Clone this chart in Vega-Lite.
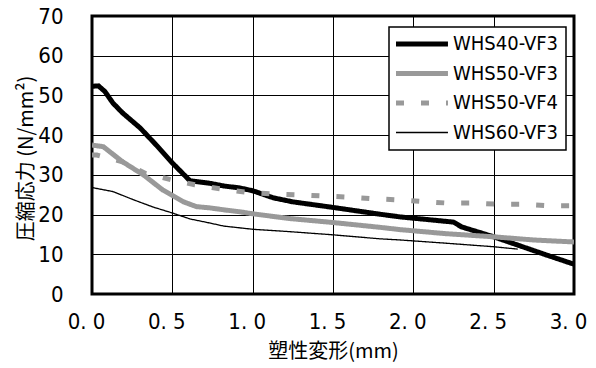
{
  "$schema": "https://vega.github.io/schema/vega-lite/v6.json",
  "width": 482,
  "height": 278,
  "autosize": {"type": "none"},
  "padding": {"left": 92, "top": 16, "right": 22, "bottom": 74},
  "background": "white",
  "config": {
    "view": {"stroke": "black", "strokeWidth": 3},
    "axis": {
      "domain": false,
      "ticks": false,
      "labelFlush": false,
      "labelOverlap": false,
      "gridColor": "black",
      "gridWidth": 1,
      "gridOpacity": 1,
      "labelColor": "black",
      "titleColor": "black",
      "labelFont": "DejaVu Sans Condensed, sans-serif",
      "labelFontSize": 22,
      "titleFont": "Noto Sans CJK JP, sans-serif",
      "titleFontWeight": "normal",
      "titleFontSize": 20
    }
  },
  "data": {
    "values": [
      {"series": "WHS40-VF3", "x": 0, "y": 52.3},
      {"series": "WHS40-VF3", "x": 0.04, "y": 52.4},
      {"series": "WHS40-VF3", "x": 0.08, "y": 51},
      {"series": "WHS40-VF3", "x": 0.13, "y": 48.1},
      {"series": "WHS40-VF3", "x": 0.19, "y": 45.6},
      {"series": "WHS40-VF3", "x": 0.3, "y": 41.8},
      {"series": "WHS40-VF3", "x": 0.4, "y": 37.5},
      {"series": "WHS40-VF3", "x": 0.5, "y": 33},
      {"series": "WHS40-VF3", "x": 0.61, "y": 28.5},
      {"series": "WHS40-VF3", "x": 0.73, "y": 27.9},
      {"series": "WHS40-VF3", "x": 0.82, "y": 27.2},
      {"series": "WHS40-VF3", "x": 0.92, "y": 26.7},
      {"series": "WHS40-VF3", "x": 1.0, "y": 26},
      {"series": "WHS40-VF3", "x": 1.13, "y": 24.2},
      {"series": "WHS40-VF3", "x": 1.25, "y": 23.2},
      {"series": "WHS40-VF3", "x": 1.5, "y": 21.8},
      {"series": "WHS40-VF3", "x": 1.79, "y": 20.1},
      {"series": "WHS40-VF3", "x": 1.92, "y": 19.4},
      {"series": "WHS40-VF3", "x": 2.1, "y": 18.7},
      {"series": "WHS40-VF3", "x": 2.25, "y": 18.1},
      {"series": "WHS40-VF3", "x": 2.3, "y": 16.9},
      {"series": "WHS40-VF3", "x": 2.5, "y": 14.4},
      {"series": "WHS40-VF3", "x": 2.68, "y": 11.9},
      {"series": "WHS40-VF3", "x": 2.83, "y": 9.8},
      {"series": "WHS40-VF3", "x": 3.0, "y": 7.5},
      {"series": "WHS50-VF3", "x": 0, "y": 37.5},
      {"series": "WHS50-VF3", "x": 0.07, "y": 37.1},
      {"series": "WHS50-VF3", "x": 0.19, "y": 33.3},
      {"series": "WHS50-VF3", "x": 0.32, "y": 30},
      {"series": "WHS50-VF3", "x": 0.44, "y": 26.2},
      {"series": "WHS50-VF3", "x": 0.57, "y": 23.2},
      {"series": "WHS50-VF3", "x": 0.65, "y": 22},
      {"series": "WHS50-VF3", "x": 0.73, "y": 21.7},
      {"series": "WHS50-VF3", "x": 0.82, "y": 21.2},
      {"series": "WHS50-VF3", "x": 0.92, "y": 20.7},
      {"series": "WHS50-VF3", "x": 1.0, "y": 20.2},
      {"series": "WHS50-VF3", "x": 1.23, "y": 19.0},
      {"series": "WHS50-VF3", "x": 1.5, "y": 18.0},
      {"series": "WHS50-VF3", "x": 1.79, "y": 16.8},
      {"series": "WHS50-VF3", "x": 1.92, "y": 16.2},
      {"series": "WHS50-VF3", "x": 2.2, "y": 15.2},
      {"series": "WHS50-VF3", "x": 2.5, "y": 14.4},
      {"series": "WHS50-VF3", "x": 2.75, "y": 13.6},
      {"series": "WHS50-VF3", "x": 3.0, "y": 13.1},
      {"series": "WHS50-VF4", "x": 0, "y": 35},
      {"series": "WHS50-VF4", "x": 0.03, "y": 35},
      {"series": "WHS50-VF4", "x": 0.19, "y": 33.3},
      {"series": "WHS50-VF4", "x": 0.33, "y": 30.4},
      {"series": "WHS50-VF4", "x": 0.5, "y": 28.7},
      {"series": "WHS50-VF4", "x": 0.64, "y": 27.5},
      {"series": "WHS50-VF4", "x": 0.81, "y": 26.4},
      {"series": "WHS50-VF4", "x": 0.95, "y": 25.7},
      {"series": "WHS50-VF4", "x": 1.12, "y": 25.2},
      {"series": "WHS50-VF4", "x": 1.27, "y": 25},
      {"series": "WHS50-VF4", "x": 1.43, "y": 24.7},
      {"series": "WHS50-VF4", "x": 1.59, "y": 24.4},
      {"series": "WHS50-VF4", "x": 1.74, "y": 24},
      {"series": "WHS50-VF4", "x": 1.9, "y": 23.7},
      {"series": "WHS50-VF4", "x": 2.05, "y": 23.3},
      {"series": "WHS50-VF4", "x": 2.21, "y": 22.9},
      {"series": "WHS50-VF4", "x": 2.37, "y": 22.9},
      {"series": "WHS50-VF4", "x": 2.53, "y": 22.6},
      {"series": "WHS50-VF4", "x": 2.68, "y": 22.6},
      {"series": "WHS50-VF4", "x": 2.84, "y": 22.2},
      {"series": "WHS50-VF4", "x": 3.0, "y": 22.2},
      {"series": "WHS60-VF3", "x": 0, "y": 26.8},
      {"series": "WHS60-VF3", "x": 0.13, "y": 25.8},
      {"series": "WHS60-VF3", "x": 0.26, "y": 23.7},
      {"series": "WHS60-VF3", "x": 0.38, "y": 21.9},
      {"series": "WHS60-VF3", "x": 0.5, "y": 20.4},
      {"series": "WHS60-VF3", "x": 0.61, "y": 18.9},
      {"series": "WHS60-VF3", "x": 0.73, "y": 17.9},
      {"series": "WHS60-VF3", "x": 0.82, "y": 17.1},
      {"series": "WHS60-VF3", "x": 1.0, "y": 16.3},
      {"series": "WHS60-VF3", "x": 1.23, "y": 15.7},
      {"series": "WHS60-VF3", "x": 1.5, "y": 14.9},
      {"series": "WHS60-VF3", "x": 1.79, "y": 13.9},
      {"series": "WHS60-VF3", "x": 1.92, "y": 13.6},
      {"series": "WHS60-VF3", "x": 2.2, "y": 12.8},
      {"series": "WHS60-VF3", "x": 2.5, "y": 11.9},
      {"series": "WHS60-VF3", "x": 2.65, "y": 11.3}
    ]
  },
  "mark": {"type": "line", "clip": true, "strokeCap": "butt"},
  "encoding": {
    "x": {
      "field": "x",
      "type": "quantitative",
      "scale": {"domain": [0, 3], "nice": false, "zero": false},
      "axis": {
        "values": [0, 0.5, 1, 1.5, 2, 2.5, 3],
        "format": ".1f",
        "labelExpr": "replace(datum.label, '.', '. ')",
        "labelPadding": 17,
        "labelOffset": -6,
        "title": "塑性変形(mm)",
        "titleY": 57,
        "titleBaseline": "middle"
      }
    },
    "y": {
      "field": "y",
      "type": "quantitative",
      "scale": {"domain": [0, 70], "nice": false},
      "axis": {
        "values": [0, 10, 20, 30, 40, 50, 60, 70],
        "labelPadding": 29,
        "title": "圧縮応力 (N/mm²)",
        "titleX": -66,
        "titleY": 142,
        "titleBaseline": "middle",
        "titleAngle": -90
      }
    },
    "color": {
      "field": "series",
      "type": "nominal",
      "title": null,
      "scale": {"domain": ["WHS40-VF3", "WHS50-VF3", "WHS50-VF4", "WHS60-VF3"], "range": ["#000000", "#999999", "#999999", "#000000"]},
      "legend": {
        "orient": "none",
        "legendX": 297,
        "legendY": 11,
        "direction": "vertical",
        "fillColor": "white",
        "strokeColor": "black",
        "padding": 7,
        "symbolType": "M0,0H12",
        "symbolSize": 75,
        "labelFont": "DejaVu Sans Condensed, sans-serif",
        "labelFontSize": 20,
        "labelColor": "black",
        "labelOffset": 5,
        "rowPadding": 9.5,
        "labelLimit": 300,
        "encode": {
          "legend": {"update": {"strokeWidth": {"value": 1.5}}},
          "symbols": {"update": {"x": {"value": 0}}},
          "labels": {"update": {"x": {"value": 57}}}
        }
      }
    },
    "strokeDash": {
      "field": "series",
      "type": "nominal",
      "title": null,
      "scale": {"domain": ["WHS40-VF3", "WHS50-VF3", "WHS50-VF4", "WHS60-VF3"], "range": [[1, 0], [1, 0], [8, 17], [1, 0]]}
    },
    "strokeWidth": {
      "field": "series",
      "type": "nominal",
      "title": null,
      "scale": {"type": "ordinal", "domain": ["WHS40-VF3", "WHS50-VF3", "WHS50-VF4", "WHS60-VF3"], "range": [5, 5, 5, 1.3]}
    }
  }
}
